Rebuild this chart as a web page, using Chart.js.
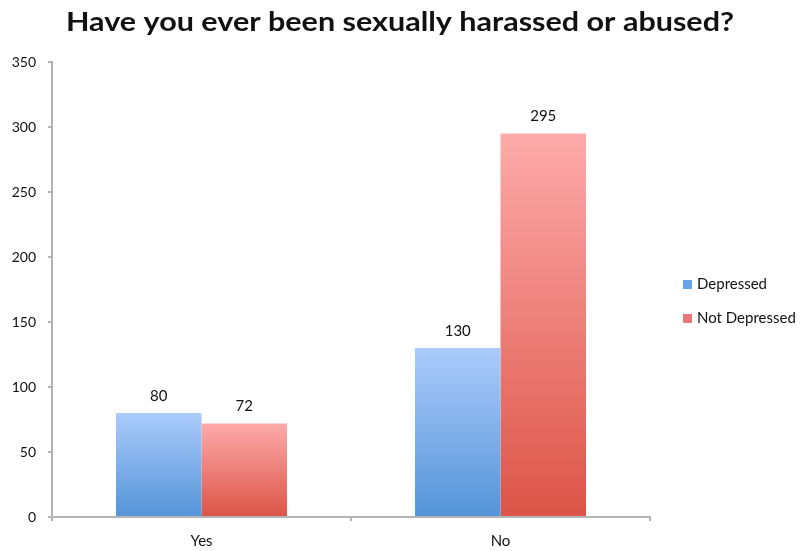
<!DOCTYPE html>
<html>
<head>
<meta charset="utf-8">
<script src="https://cdn.jsdelivr.net/npm/chart.js@4.4.1/dist/chart.umd.min.js"></script>
<style>
  html, body { margin: 0; padding: 0; background: #ffffff; }
  #wrap { width: 800px; height: 551px; position: relative; }
</style>
</head>
<body>
<div id="wrap"><canvas id="c" width="800" height="551"></canvas></div>
<script>
// Survey answers split by depression status
const chartTitle = 'Have you ever been sexually harassed or abused?';
const categories = ['Yes', 'No'];
const seriesNames = ['Depressed', 'Not Depressed'];
const depressed = [80, 130];
const notDepressed = [72, 295];
const yTickValues = [0, 50, 100, 150, 200, 250, 300, 350];

const FONT = 'Lato, "Open Sans", sans-serif';
const INK = '#111111';
const AXIS = '#b4b4b4';

// Vertical shading for each series: light at the bar top, deeper at the base
const palettes = [
  { top: '#abcbfb', bottom: '#5494d8', key: '#6aa4e8' },
  { top: '#fdaaaa', bottom: '#dc5447', key: '#ea7876' }
];

function barFill(ctx) {
  const p = palettes[ctx.datasetIndex];
  const chart = ctx.chart;
  if (!chart.chartArea || ctx.type !== 'data') return p.key;
  const y = chart.scales.y;
  const top = y.getPixelForValue(ctx.parsed.y);
  const base = y.getPixelForValue(0);
  const g = chart.ctx.createLinearGradient(0, top, 0, base);
  g.addColorStop(0, p.top);
  g.addColorStop(1, p.bottom);
  return g;
}

// Title across the top, fitted to a fixed span
const titlePlugin = {
  id: 'titleText',
  afterDraw(chart) {
    const c = chart.ctx;
    c.save();
    c.font = 'bold 27px ' + FONT;
    c.fillStyle = INK;
    c.textAlign = 'center';
    c.textBaseline = 'middle';
    const w = c.measureText(chartTitle).width;
    const span = 668;
    c.translate(400, 22);
    c.scale(span / w, 1);
    c.fillText(chartTitle, 0, 0);
    c.restore();
  }
};

// Value printed above every bar
const valueLabels = {
  id: 'valueLabels',
  afterDatasetsDraw(chart) {
    const c = chart.ctx;
    c.save();
    c.font = '15px ' + FONT;
    c.fillStyle = INK;
    c.textAlign = 'center';
    c.textBaseline = 'middle';
    chart.data.datasets.forEach((ds, i) => {
      chart.getDatasetMeta(i).data.forEach((bar, j) => {
        const { x, y } = bar.getProps(['x', 'y'], true);
        c.fillText(String(ds.data[j]), x, y - 17);
      });
    });
    c.restore();
  }
};

// Legend column on the right
const sideLegend = {
  id: 'sideLegend',
  afterDraw(chart) {
    const c = chart.ctx;
    c.save();
    c.font = '15px ' + FONT;
    c.textBaseline = 'middle';
    c.textAlign = 'left';
    chart.data.datasets.forEach((ds, i) => {
      const cy = 284 + i * 34;
      c.fillStyle = palettes[i].key;
      c.fillRect(683, cy - 4, 9, 9);
      c.fillStyle = INK;
      c.fillText(ds.label, 697, cy);
    });
    c.restore();
  }
};

new Chart(document.getElementById('c'), {
  type: 'bar',
  data: {
    labels: categories,
    datasets: [
      { label: seriesNames[0], data: depressed, backgroundColor: barFill, borderWidth: 0 },
      { label: seriesNames[1], data: notDepressed, backgroundColor: barFill, borderWidth: 0 }
    ]
  },
  options: {
    responsive: false,
    maintainAspectRatio: false,
    animation: false,
    devicePixelRatio: 1,
    layout: { padding: { top: 62, right: 150, left: 0, bottom: 0 } },
    plugins: {
      legend: { display: false },
      title: { display: false },
      tooltip: { enabled: false }
    },
    datasets: {
      bar: { categoryPercentage: 0.572, barPercentage: 1.0 }
    },
    scales: {
      x: {
        offset: true,
        grid: { display: true, offset: true, drawOnChartArea: false, drawTicks: true, tickLength: 4, color: AXIS, lineWidth: 2 },
        border: { display: true, color: AXIS, width: 2 },
        ticks: { color: INK, font: { family: FONT, size: 15 }, padding: 11 },
        afterFit(scale) { scale.height = 34; }
      },
      y: {
        min: 0,
        max: 350,
        afterBuildTicks(scale) { scale.ticks = yTickValues.map(v => ({ value: v })); },
        grid: { display: true, drawOnChartArea: false, drawTicks: true, tickLength: 4, color: AXIS, lineWidth: 2 },
        border: { display: true, color: AXIS, width: 2 },
        ticks: { color: INK, font: { family: FONT, size: 14 }, padding: 12 },
        afterFit(scale) { scale.width = 52; }
      }
    }
  },
  plugins: [titlePlugin, valueLabels, sideLegend]
});
</script>
</body>
</html>
